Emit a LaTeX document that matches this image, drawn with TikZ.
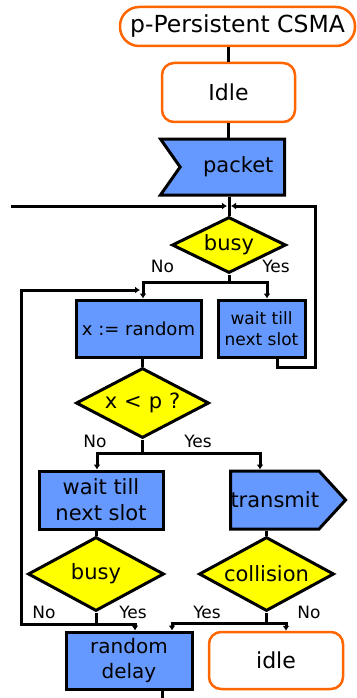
\documentclass[tikz,border=0pt]{standalone}
\usepackage{fontspec}
\setmainfont{DejaVu Sans}
\usetikzlibrary{shapes.geometric,shapes.symbols,arrows.meta}
\definecolor{boxblue}{RGB}{102,153,255}
\definecolor{termorange}{RGB}{255,102,0}
\definecolor{decyellow}{RGB}{255,255,0}

\begin{document}
\begin{tikzpicture}[x=1pt, y=-1pt, line width=3pt,
  term/.style={draw=termorange, line width=2.5pt, rounded corners=12pt, fill=white,
    inner sep=0pt, font=\fontsize{22}{24}\selectfont},
  proc/.style={draw, fill=boxblue, align=center, inner sep=0pt,
    font=\fontsize{20}{25}\selectfont},
  decide/.style={diamond, draw, fill=decyellow, aspect=2, inner sep=0pt,
    font=\fontsize{21}{23}\selectfont},
  yesno/.style={inner sep=0pt, font=\fontsize{17}{19}\selectfont},
  flow/.style={-{Latex[length=5pt,width=7pt]}}]
  \useasboundingbox (0,0) rectangle (356,698);

  % Terminals
  \node[term, rounded corners=19pt, minimum width=235pt, minimum height=39pt,
    font=\fontsize{23.5}{25}\selectfont] (title) at (237.5,26.5) {p-Persistent CSMA};
  \node[term, minimum width=133pt, minimum height=59pt] (idle) at (228.5,92.5) {Idle};
  \node[term, minimum width=134pt, minimum height=57pt] (idle2) at (276,660.5) {idle};

  % Processes
  \node[proc, shape=signal, signal from=west, signal to=nowhere, signal pointer angle=110,
    minimum width=124pt, minimum height=56pt, font=\fontsize{21}{23}\selectfont,
    anchor=east] (packet) at (286,167) {\hspace{12pt}packet};
  \node[proc, minimum width=125pt, minimum height=57pt, font=\fontsize{18}{23}\selectfont] (xr) at (138.5,328.5) {x := random};
  \node[proc, minimum width=87pt, minimum height=57pt, font=\fontsize{17}{21}\selectfont] (wait1) at (261.5,328.5) {wait till\\next slot};
  \node[proc, minimum width=124pt, minimum height=58pt, font=\fontsize{21}{26}\selectfont] (wait2) at (101,500) {wait till\\next slot};
  \node[proc, shape=signal, signal to=east, signal from=nowhere, signal pointer angle=95,
    minimum width=114pt, minimum height=58pt, font=\fontsize{21}{23}\selectfont,
    anchor=west] (tx) at (229,500) {transmit};
  \node[proc, minimum width=126pt, minimum height=57pt] (delay) at (129,660.5) {random\\delay};

  % Decisions
  \node[decide, minimum width=114pt, minimum height=56pt] (busy1) at (229,245) {busy};
  \node[decide, minimum width=133pt, minimum height=70pt] (dp) at (142.5,403)
    {x\hspace{7pt}<\hspace{7pt}p\hspace{7pt}?};
  \node[decide, minimum width=136pt, minimum height=74pt] (busy2) at (96,574) {busy};
  \node[decide, minimum width=135pt, minimum height=74pt] (coll) at (266.5,574) {collision};

  % Yes / No labels
  \node[yesno] (n1) at (162.5,266) {No};
  \node[yesno] (y1) at (276,266) {Yes};
  \node[yesno] (n2) at (95,441) {No};
  \node[yesno] (y2) at (198,441) {Yes};
  \node[yesno] (n3) at (44,612) {No};
  \node[yesno] (y3) at (133,612) {Yes};
  \node[yesno] (y4) at (207,612) {Yes};
  \node[yesno] (n4) at (309,612) {No};

  % Junctions and loose ends
  \coordinate (top) at (229,206);
  \coordinate (lin) at (11,206);
  \coordinate (rloop) at (315,367);
  \coordinate (lloop) at (21,290);
  \coordinate (out) at (162,698);

  % Main line
  \draw (idle.north |- title.south) -- (idle.north);
  \draw (idle.south) -- (idle.south |- packet.north);
  \draw (busy1.north |- packet.south) -- (busy1.north);
  \draw[flow, shorten >=2pt] (lin) -- (top);
  \draw[flow, shorten >=2pt] ([xshift=15.5pt]wait1.south) |- (rloop) |- (top);

  % busy
  \draw (busy1.south) -- ++(0,8) coordinate (b1);
  \draw[flow] (b1) -| ([xshift=4.5pt]xr.north);
  \draw[flow] (b1) -| ([xshift=5.5pt]wait1.north);

  % x < p ?
  \draw (dp.north |- xr.south) -- (dp.north);
  \draw (dp.south) -- ++(0,14) coordinate (b2);
  \draw[flow] (b2) -| ([xshift=-4pt]wait2.north);
  \draw[flow] (b2) -| ([xshift=-6.5pt]coll.north |- tx.north);

  % second busy and collision
  \draw (busy2.north |- wait2.south) -- (busy2.north);
  \draw (coll.north |- tx.south) -- (coll.north);
  \draw (busy2.south) -- ++(0,12) coordinate (b3);
  \draw[flow] (b3) -| ([xshift=6pt]delay.north);
  \draw[flow, shorten >=3pt] (b3) -| (lloop) -- ([xshift=4.5pt]xr.north |- lloop);
  \draw (coll.south) -- ++(0,11) coordinate (b4);
  \draw[flow] (b4) -| ([xshift=43pt]delay.north);
  \draw[flow] (b4) -| ([xshift=10pt]idle2.north);
  \draw ([xshift=33pt]delay.south) -- (out);
\end{tikzpicture}
\end{document}
